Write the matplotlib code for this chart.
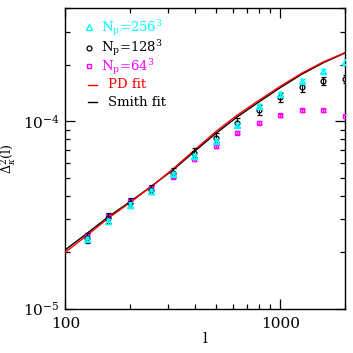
import matplotlib
matplotlib.use("Agg")
import matplotlib.pyplot as plt
from matplotlib.ticker import FixedLocator, FixedFormatter, NullFormatter, LogLocator

plt.rcParams['font.family'] = ['DejaVu Serif']
plt.rcParams['mathtext.fontset'] = 'dejavuserif'

# multipoles
ell = [126, 158, 200, 251, 316, 398, 501, 631, 794, 1000, 1259, 1585, 2000]

# N_p = 256^3 (cyan triangles)
p256 = [2.35e-5, 2.92e-5, 3.59e-5, 4.23e-5, 5.25e-5, 6.52e-5, 7.84e-5,
        9.55e-5, 1.20e-4, 1.395e-4, 1.63e-4, 1.85e-4, 2.06e-4]
e256 = [0.06e-5, 0.08e-5, 0.10e-5, 0.12e-5, 0.14e-5, 0.17e-5, 0.2e-5,
        0.25e-5, 0.3e-5, 0.35e-5, 0.4e-5, 0.45e-5, 0.5e-5]

# N_p = 128^3 (black circles)
p128 = [2.39e-5, 3.05e-5, 3.67e-5, 4.32e-5, 5.31e-5, 6.79e-5, 8.18e-5,
        9.84e-5, 1.15e-4, 1.34e-4, 1.515e-4, 1.63e-4, 1.68e-4]
e128 = [0.14e-5, 0.18e-5, 0.21e-5, 0.25e-5, 0.3e-5, 0.38e-5, 0.45e-5,
        0.55e-5, 0.65e-5, 0.75e-5, 0.8e-5, 0.8e-5, 0.8e-5]

# N_p = 64^3 (magenta squares)
p64 = [2.46e-5, 3.11e-5, 3.77e-5, 4.41e-5, 5.06e-5, 6.25e-5, 7.37e-5,
       8.70e-5, 9.80e-5, 1.077e-4, 1.145e-4, 1.145e-4, 1.06e-4]
e64 = [0.05e-5, 0.06e-5, 0.07e-5, 0.08e-5, 0.1e-5, 0.12e-5, 0.14e-5,
       0.16e-5, 0.18e-5, 0.2e-5, 0.2e-5, 0.2e-5, 0.2e-5]

# fit curves
ell_fit = [100, 126, 158, 200, 251, 316, 398, 501, 631, 794, 1000, 1259, 1585, 2000]
pd_fit = [2.0e-5, 2.46e-5, 3.03e-5, 3.68e-5, 4.48e-5, 5.55e-5, 7.0e-5,
          8.8e-5, 1.078e-4, 1.291e-4, 1.535e-4, 1.803e-4, 2.07e-4, 2.32e-4]
smith_fit = [2.06e-5, 2.52e-5, 3.08e-5, 3.72e-5, 4.49e-5, 5.48e-5, 6.88e-5,
             8.6e-5, 1.055e-4, 1.265e-4, 1.51e-4, 1.78e-4, 2.05e-4, 2.31e-4]

legend_labels = [r'N$_\mathrm{p}$=256$^3$', r'N$_\mathrm{p}$=128$^3$',
                 r'N$_\mathrm{p}$=64$^3$', 'PD fit', 'Smith fit']
legend_colors = ['cyan', 'black', 'magenta', 'red', 'black']

fig = plt.figure(figsize=(3.53, 3.53), dpi=100)
ax = fig.add_axes([0.185, 0.1255, 0.7924, 0.851])
ax.set_xscale('log')
ax.set_yscale('log')

ax.plot(ell_fit, smith_fit, color='black', lw=1.0, zorder=3)
ax.plot(ell_fit, pd_fit, color='red', lw=1.0, zorder=3)

ax.errorbar(ell, p64, yerr=e64, fmt='s', ms=3.5, mfc='none', mec='magenta',
            mew=1.0, ecolor='magenta', elinewidth=0.8, capsize=1.8, zorder=4)
ax.errorbar(ell, p128, yerr=e128, fmt='o', ms=3.5, mfc='none', mec='black',
            mew=0.9, ecolor='black', elinewidth=0.8, capsize=1.8, zorder=5)
ax.errorbar(ell, p256, yerr=e256, fmt='^', ms=4, mfc='none', mec='cyan',
            mew=1.0, ecolor='cyan', elinewidth=0.8, capsize=1.8, zorder=6)

ax.set_xlim(100, 2000)
ax.set_ylim(1e-5, 4e-4)

ax.xaxis.set_major_locator(FixedLocator([100, 1000]))
ax.xaxis.set_major_formatter(FixedFormatter(['100', '1000']))
ax.xaxis.set_minor_locator(LogLocator(base=10, subs=range(2, 10)))
ax.xaxis.set_minor_formatter(NullFormatter())
ax.yaxis.set_major_locator(FixedLocator([1e-5, 1e-4]))
ax.yaxis.set_major_formatter(FixedFormatter([r'$10^{-5}$', r'$10^{-4}$']))
ax.yaxis.set_minor_locator(LogLocator(base=10, subs=range(2, 10)))
ax.yaxis.set_minor_formatter(NullFormatter())

ax.tick_params(which='both', direction='in', top=True, right=True,
               labelsize=11, width=0.9)
ax.tick_params(axis='x', which='both', pad=6)
ax.tick_params(axis='y', which='both', pad=4)
ax.tick_params(which='major', length=7)
ax.tick_params(which='minor', length=3.6)
for s in ax.spines.values():
    s.set_linewidth(1.0)

ax.set_xlabel('l', fontsize=11, labelpad=1)
ax.set_ylabel(r'$\Delta^2_\kappa(\mathrm{l})$', fontsize=9)
ax.yaxis.set_label_coords(-0.168, 0.5)

# hand-placed legend (axes-fraction layout)
tr = ax.transAxes
text_y = [0.922, 0.8535, 0.792, 0.734, 0.675]
text_x = [0.1265, 0.1265, 0.1265, 0.153, 0.153]
mark_y = [0.937, 0.867, 0.808]
ax.plot([0.085], [mark_y[0]], marker='^', ms=4, mfc='none', mec='cyan', mew=1.0,
        transform=tr, clip_on=False)
ax.plot([0.085], [mark_y[1]], marker='o', ms=3.5, mfc='none', mec='black', mew=0.9,
        transform=tr, clip_on=False)
ax.plot([0.085], [mark_y[2]], marker='s', ms=3.5, mfc='none', mec='magenta', mew=1.0,
        transform=tr, clip_on=False)
ax.plot([0.080, 0.112], [0.745, 0.745], color='red', lw=1.0, transform=tr)
ax.plot([0.080, 0.112], [0.689, 0.689], color='black', lw=1.0, transform=tr)
for lab, col, x, y in zip(legend_labels, legend_colors, text_x, text_y):
    ax.text(x, y, lab, color=col, fontsize=9.5, transform=tr,
            ha='left', va='baseline')

fig.savefig('out.png', dpi=100)
